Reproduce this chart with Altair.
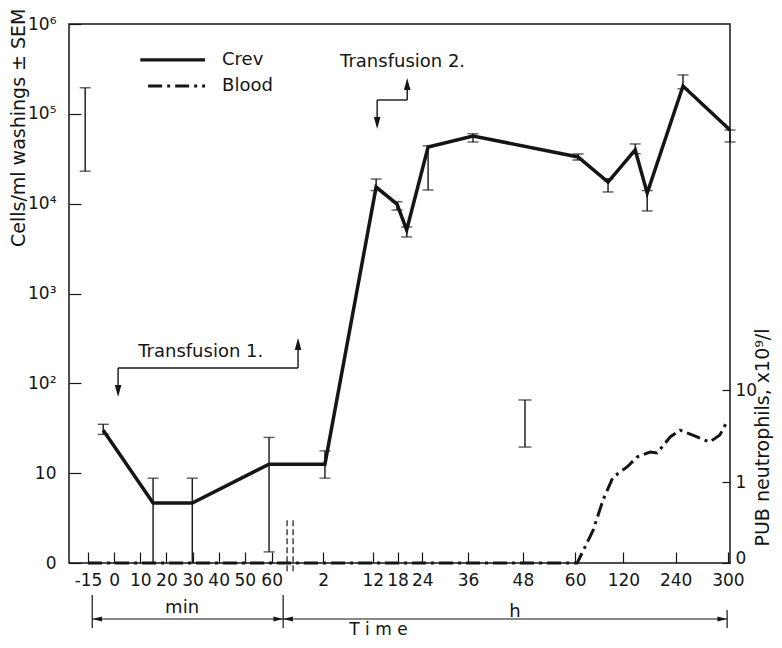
import json
import altair as alt
import pandas as pd

FONT = "DejaVu Sans"
INK = "#151515"

# ---------------- data ----------------
# Broken, non-linear time axis: tick labels and their place along the drawn axis
x_tick_labels = ["-15", "0", "10", "20", "30", "40", "50", "60",
                 "2", "12", "18", "24", "36", "48", "60", "120", "240", "300"]
x_tick_pos = [-1.0, 0.0, 1.0, 2.0, 3.0, 4.0, 5.0, 6.03,
              8.0, 9.9, 10.85, 11.8, 13.55, 15.65, 17.65, 19.5, 21.5, 23.5]
X_MIN, X_MAX = -1.73, 23.58

# Left axis (log, "0" drawn at 1)
y_tick_vals = [1, 10, 100, 1e3, 1e4, 1e5, 1e6]
y_tick_labels = ["0", "10", "10²", "10³", "10⁴", "10⁵", "10⁶"]

# Right axis (log, "0" drawn at the floor)
R_ZERO, R_MAX = 0.132, 95000
r_tick_vals = [R_ZERO, 1, 10]

# Crevicular neutrophils (cells/ml washings) with SEM
crev_x = [-0.42, 1.49, 2.99, 5.93, 8.07, 10.03, 10.83, 11.2, 12.02, 13.74,
          17.76, 18.91, 19.95, 20.41, 21.78, 23.58]
crev_val = [30, 4.65, 4.65, 12.6, 12.6, 15300, 9900, 5100, 42800, 56700,
            33100, 17400, 39600, 13100, 204000, 66000]
crev_lo = [27, 1, 1, 1.33, 8.8, 14000, 8500, 4260, 14200, 48600,
           30600, 13500, 36000, 8300, 190000, 48600]
crev_hi = [35, 8.8, 8.8, 25, 17.7, 18800, 10500, 5500, 44000, 60000,
           35700, 19000, 46200, 14000, 271000, 66000]

# Peripheral blood neutrophils (x10^9/l)
blood_x = [-1.0, 17.73, 18.34, 18.72, 19.1, 19.64, 20.02, 20.52, 20.79,
           21.29, 21.67, 22.32, 22.8, 23.19, 23.5]
blood_val = [0, 0, 0.30, 0.64, 1.13, 1.46, 1.87, 2.12, 2.07,
             3.09, 3.67, 3.09, 2.72, 3.24, 4.72]

# Typical SEM bars drawn apart
crev_sem = {"x": -1.11, "lo": 23000, "hi": 195000}
blood_sem = {"x": 15.73, "lo": 2.4, "hi": 7.8}

# Transfusion brackets (start/end on the time axis, levels on the left axis)
transf = [
    {"label": "Transfusion 1.", "x0": 0.15, "x1": 7.04, "level": 148,
     "down": 82, "up": 274, "tx": 0.92, "ty": 223},
    {"label": "Transfusion 2.", "x0": 10.07, "x1": 11.22, "level": 142600,
     "down": 79000, "up": 215000, "tx": 8.65, "ty": 378000},
]

# ---------------- frames ----------------
crev = pd.DataFrame({"x": crev_x, "v": crev_val, "lo": crev_lo, "hi": crev_hi})
caps = pd.DataFrame(
    [{"x": x, "y": h} for x, h in zip(crev_x, crev_hi)]
    + [{"x": x, "y": l} for x, l in zip(crev_x, crev_lo) if l > 1]
    + [{"x": crev_sem["x"], "y": crev_sem["lo"]}, {"x": crev_sem["x"], "y": crev_sem["hi"]}]
)
bars = pd.concat([crev[["x", "lo", "hi"]],
                  pd.DataFrame([crev_sem])], ignore_index=True)
blood = pd.DataFrame({"x": blood_x, "v": [v if v > 0 else R_ZERO for v in blood_val]})
bsem = pd.DataFrame([blood_sem])
bcaps = pd.DataFrame({"x": [blood_sem["x"]] * 2, "y": [blood_sem["lo"], blood_sem["hi"]]})

# ---------------- scales / axes ----------------
xs = alt.Scale(domain=[X_MIN, X_MAX], nice=False, zero=False)
ys = alt.Scale(type="log", domain=[1, 1e6], nice=False)
rs = alt.Scale(type="log", domain=[R_ZERO, R_MAX], nice=False)

x_axis = alt.Axis(
    values=x_tick_pos,
    labelExpr=json.dumps(x_tick_labels) + "[indexof(" + json.dumps(x_tick_pos) + ", datum.value)]",
    tickSize={"expr": "-11"}, labelPadding=20, domain=False, grid=False,
    title="T i m e", titleX=309, titleY=66, titleBaseline="middle", titleAlign="center",
    titleFontSize=17, titleFontWeight="normal", labelFontSize=17,
    labelOverlap=False, labelFlush=False, tickColor=INK, tickWidth=1.2,
    labelColor=INK, titleColor=INK, labelFont=FONT, titleFont=FONT,
)
y_axis = alt.Axis(
    values=y_tick_vals,
    labelExpr=json.dumps(y_tick_labels, ensure_ascii=False) + "[round(log(datum.value)/LN10)]",
    tickSize={"expr": "-12"}, labelPadding=25, domain=False, grid=False,
    title="Cells/ml washings ± SEM", titleAngle=270, titleX=-51, titleY=-16,
    titleAlign="right", titleBaseline="middle", titleFontSize=19, titleFontWeight="normal",
    labelFontSize=17, labelOverlap=False, labelFlush=False, tickColor=INK, tickWidth=1.2,
    labelColor=INK, titleColor=INK, labelFont=FONT, titleFont=FONT,
)
r_axis = alt.Axis(
    orient="right", values=r_tick_vals,
    labelExpr="datum.value < 0.5 ? '0' : format(datum.value, 'd')",
    labelBaseline={"condition": {"test": "datum.value < 0.5", "value": "alphabetic"}, "value": "middle"},
    tickSize={"expr": "-8"}, labelPadding=13, domain=False, grid=False,
    title="PUB neutrophils, x10⁹/l", titleAngle=270, titleX=32, titleY=413,
    titleAlign="center", titleBaseline="middle", titleFontSize=19, titleFontWeight="normal",
    labelFontSize=17, labelOverlap=False, labelFlush=False, tickColor=INK, tickWidth=1.2,
    labelColor=INK, titleColor=INK, labelFont=FONT, titleFont=FONT,
)


def X(f="x"):
    return alt.X(f"{f}:Q", scale=xs, axis=x_axis)


def Y(f):
    return alt.Y(f"{f}:Q", scale=ys, axis=y_axis)


def R(f):
    return alt.Y(f"{f}:Q", scale=rs, axis=r_axis)


# ---------------- left-axis layers ----------------
crev_line = alt.Chart(crev).mark_line(color=INK, strokeWidth=3.5).encode(x=X(), y=Y("v"))
err_rules = alt.Chart(bars).mark_rule(color=INK, strokeWidth=1.4).encode(
    x=X(), y=Y("lo"), y2="hi:Q")
err_caps = alt.Chart(caps).mark_tick(color=INK, thickness=1.4, size=11, orient="horizontal").encode(
    x=X(), y=Y("y"))

# transfusion brackets
tr_v = pd.DataFrame(
    [{"x": t["x0"], "a": t["level"], "b": t["down"]} for t in transf]
    + [{"x": t["x1"], "a": t["level"], "b": t["up"]} for t in transf])
tr_h = pd.DataFrame([{"x": t["x0"], "x1": t["x1"], "y": t["level"]} for t in transf])
tr_down = pd.DataFrame([{"x": t["x0"], "y": t["down"]} for t in transf])
tr_up = pd.DataFrame([{"x": t["x1"], "y": t["up"]} for t in transf])
tr_txt = pd.DataFrame([{"x": t["tx"], "y": t["ty"], "t": t["label"]} for t in transf])

tv = alt.Chart(tr_v).mark_rule(color=INK, strokeWidth=1.4).encode(x=X(), y=Y("a"), y2="b:Q")
th = alt.Chart(tr_h).mark_rule(color=INK, strokeWidth=1.4).encode(x=X(), x2="x1:Q", y=Y("y"))
DOWN = "M -0.55 -1 L 0.55 -1 L 0 1 Z"
UP = "M -0.55 1 L 0.55 1 L 0 -1 Z"
LEFT = "M 1 -0.55 L 1 0.55 L -1 0 Z"
RIGHT = "M -1 -0.55 L -1 0.55 L 1 0 Z"
tdown = alt.Chart(tr_down).mark_point(shape=DOWN, filled=True, color=INK, size=144, opacity=1).encode(x=X(), y=Y("y"))
tup = alt.Chart(tr_up).mark_point(shape=UP, filled=True, color=INK, size=144, opacity=1).encode(x=X(), y=Y("y"))
ttxt = alt.Chart(tr_txt).mark_text(align="left", baseline="middle", fontSize=18, font=FONT, color=INK).encode(
    x=X(), y=Y("y"), text="t:N")

# legend (inside plot, top-left)
leg_lines = pd.DataFrame({"x": [1.0, 1.3], "x1": [3.48, 3.48], "y": [398000, 204000], "s": ["Crev", "Blood"]})
leg_solid = alt.Chart(leg_lines.iloc[[0]]).mark_rule(color=INK, strokeWidth=3.2).encode(
    x=X(), x2="x1:Q", y=Y("y"))
leg_dash = alt.Chart(leg_lines.iloc[[1]]).mark_rule(color=INK, strokeWidth=3.2, strokeDash=[14, 5, 3, 5]).encode(
    x=X(), x2="x1:Q", y=Y("y"))
leg_txt = alt.Chart(pd.DataFrame({"x": [4.13, 4.13], "y": [398000, 204000], "t": ["Crev", "Blood"]})).mark_text(
    align="left", baseline="middle", fontSize=18, font=FONT, color=INK).encode(x=X(), y=Y("y"), text="t:N")

# broken-axis marks
brk = pd.DataFrame({"x": [6.62, 6.85], "a": [3.0, 3.0], "b": [0.79, 0.79]})
brk_m = alt.Chart(brk).mark_rule(color=INK, strokeWidth=1.2, strokeDash=[6, 3]).encode(x=X(), y=Y("a"), y2="b:Q")

# min / h brackets under the axis
sec_v = pd.DataFrame({"x": [-0.84, 6.47, 23.47], "a": [0.44, 0.44, 0.30], "b": [0.189, 0.189, 0.189]})
sec_vm = alt.Chart(sec_v).mark_rule(color=INK, strokeWidth=1.2).encode(x=X(), y=Y("a"), y2="b:Q")
sec_h = alt.Chart(pd.DataFrame({"x": [-0.84], "x1": [23.47], "y": [0.238]})).mark_rule(
    color=INK, strokeWidth=1.2).encode(x=X(), x2="x1:Q", y=Y("y"))
sec_l = alt.Chart(pd.DataFrame({"x": [-0.65, 6.66], "y": [0.238, 0.238]})).mark_point(
    shape=LEFT, filled=True, color=INK, size=90, opacity=1).encode(x=X(), y=Y("y"))
sec_r = alt.Chart(pd.DataFrame({"x": [6.28, 23.28], "y": [0.238, 0.238]})).mark_point(
    shape=RIGHT, filled=True, color=INK, size=90, opacity=1).encode(x=X(), y=Y("y"))
sec_t = alt.Chart(pd.DataFrame({"x": [2.6, 15.35], "y": [0.315, 0.285], "t": ["min", "h"]})).mark_text(
    align="center", baseline="middle", fontSize=18, font=FONT, color=INK).encode(x=X(), y=Y("y"), text="t:N")

left = alt.layer(crev_line, err_rules, err_caps, tv, th, tdown, tup, ttxt,
                 leg_solid, leg_dash, leg_txt, brk_m, sec_vm, sec_h, sec_l, sec_r, sec_t)

# ---------------- right-axis layers ----------------
blood_line = alt.Chart(blood).mark_line(color=INK, strokeWidth=3, strokeDash=[14, 5, 3, 5]).encode(
    x=X(), y=R("v"))
bsem_rule = alt.Chart(bsem).mark_rule(color=INK, strokeWidth=1.4).encode(x=X(), y=R("lo"), y2="hi:Q")
bsem_caps = alt.Chart(bcaps).mark_tick(color=INK, thickness=1.4, size=13, orient="horizontal").encode(
    x=X(), y=R("y"))
right = alt.layer(blood_line, bsem_rule, bsem_caps)

chart = alt.layer(left, right).resolve_scale(y="independent").properties(
    width=661, height=539,
    autosize=alt.AutoSizeParams(type="none"),
    padding={"left": 61, "top": 16, "right": 44, "bottom": 77},
    background="white",
).configure_view(stroke=INK, strokeWidth=1.5).configure_text(font=FONT)

chart.save("out.html", embed_options={"renderer": "svg", "actions": False})
